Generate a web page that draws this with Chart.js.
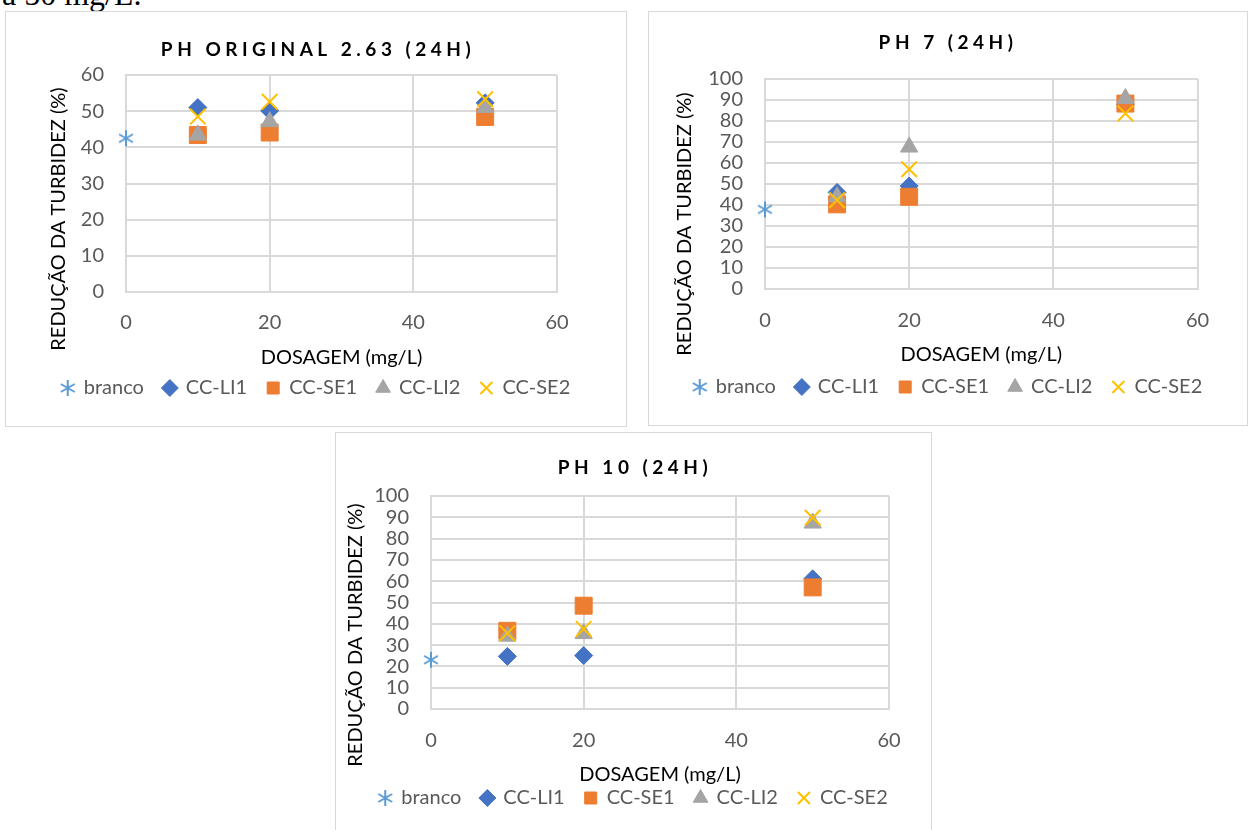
<!DOCTYPE html>
<html>
<head>
<meta charset="utf-8">
<script src="https://cdn.jsdelivr.net/npm/chart.js@4.4.1/dist/chart.umd.min.js"></script>
<style>
  html, body { margin: 0; padding: 0; background: #fff; }
  body { width: 1249px; height: 830px; position: relative; overflow: hidden; }
  .doc-text { position: absolute; left: 2px; top: -22px; font-family: "Liberation Serif", "Times New Roman", serif; font-size: 32px; line-height: 32px; color: #000; white-space: nowrap; }
  .box { position: absolute; border: 1px solid #d9d9d9; box-sizing: border-box; background: #fff; }
  .box canvas { display: block; }
</style>
</head>
<body>
<div class="doc-text">a 50 mg/L.</div>
<div class="box" style="left:5px;top:11px;width:622px;height:416px"><canvas id="chartOriginal" width="620" height="414"></canvas></div>
<div class="box" style="left:648px;top:11px;width:600px;height:415px"><canvas id="chartPh7" width="598" height="413"></canvas></div>
<div class="box" style="left:335px;top:432px;width:597px;height:400px"><canvas id="chartPh10" width="595" height="398"></canvas></div>

<script>
// series and x values
const seriesNames = ['branco', 'CC-LI1', 'CC-SE1', 'CC-LI2', 'CC-SE2'];
const dosagemBranco = [0];
const dosagem = [10, 20, 50];
const xTicks = [0, 20, 40, 60];

// pH original 2.63 (24h)
const brancoOriginal = [42.5];
const li1Original = [51.0, 50.1, 52.3];
const se1Original = [43.4, 44.1, 48.4];
const li2Original = [43.4, 47.1, 51.0];
const se2Original = [48.5, 52.6, 53.3];

// pH 7 (24h)
const brancoPh7 = [37.9];
const li1Ph7 = [46.0, 49.0, 88.0];
const se1Ph7 = [40.3, 43.9, 88.3];
const li2Ph7 = [43.9, 67.6, 90.7];
const se2Ph7 = [42.3, 57.0, 83.6];

// pH 10 (24h)
const brancoPh10 = [23.1];
const li1Ph10 = [24.7, 25.1, 61.1];
const se1Ph10 = [36.7, 48.5, 57.1];
const li2Ph10 = [34.2, 35.4, 87.3];
const se2Ph10 = [35.6, 37.6, 89.8];

const colors = ['#5B9BD5', '#4472C4', '#ED7D31', '#A5A5A5', '#FFC000'];

// excel style asterisk marker
function asterisk(color, size) {
  const c = document.createElement('canvas');
  c.width = c.height = size;
  const g = c.getContext('2d');
  const m = size / 2, r = size / 2 - 1;
  const dx = r * Math.cos(Math.PI / 6), dy = r * Math.sin(Math.PI / 6);
  g.strokeStyle = color;
  g.lineWidth = 2;
  g.beginPath();
  g.moveTo(m, m - r); g.lineTo(m, m + r);
  g.moveTo(m - dx, m - dy); g.lineTo(m + dx, m + dy);
  g.moveTo(m - dx, m + dy); g.lineTo(m + dx, m - dy);
  g.stroke();
  return c;
}

const markers = [
  { style: asterisk(colors[0], 18), radius: 9, border: 2 },
  { style: 'rectRot', radius: 9, border: 1 },
  { style: 'rect', radius: 12, border: 1 },
  { style: 'triangle', radius: 10, border: 1 },
  { style: 'crossRot', radius: 11, border: 2 }
];

function makeDatasets(values) {
  return seriesNames.map((name, i) => ({
    label: name,
    data: (i === 0 ? dosagemBranco : dosagem).map((x, j) => ({ x: x, y: values[i][j] })),
    pointStyle: markers[i].style,
    pointRadius: markers[i].radius,
    pointHoverRadius: markers[i].radius,
    backgroundColor: colors[i],
    borderColor: colors[i],
    borderWidth: markers[i].border,
    showLine: false,
    clip: false,
    order: seriesNames.length - i  // last series drawn on top, like excel
  }));
}

// chart title (letter spaced) and vertical axis title
const chartText = {
  id: 'chartText',
  afterDraw(chart, args, opts) {
    const ctx = chart.ctx;
    ctx.save();
    ctx.fillStyle = '#000';
    ctx.textAlign = 'center';
    ctx.textBaseline = 'middle';
    ctx.font = 'bold 19px Lato';
    ctx.letterSpacing = '4.5px';
    ctx.fillText(opts.title, opts.titleX, opts.titleY);
    ctx.letterSpacing = '0px';
    ctx.font = '20px Lato';
    ctx.translate(opts.yTitleX, opts.yTitleY);
    ctx.rotate(-Math.PI / 2);
    ctx.fillText(opts.yTitle, 0, 0);
    ctx.restore();
  }
};

const tickFont = { family: 'Lato', size: 20 };

function makeChart(id, title, values, yMax, g) {
  return new Chart(document.getElementById(id), {
    type: 'scatter',
    data: { datasets: makeDatasets(values) },
    plugins: [chartText],
    options: {
      responsive: false,
      animation: false,
      layout: { padding: { left: 0, right: 0, top: g.top, bottom: g.bottom } },
      plugins: {
        tooltip: { enabled: false },
        title: { display: false },
        chartText: {
          title: title, titleX: g.titleX, titleY: g.titleY,
          yTitle: 'REDUÇÃO DA TURBIDEZ (%)', yTitleX: g.yTitleX, yTitleY: g.yTitleY
        },
        legend: {
          position: 'bottom',
          reverse: true,
          labels: {
            usePointStyle: true,
            boxWidth: 12,
            boxHeight: 12,
            padding: 20,
            color: '#595959',
            font: tickFont
          }
        }
      },
      scales: {
        x: {
          type: 'linear',
          min: xTicks[0],
          max: xTicks[xTicks.length - 1],
          afterBuildTicks: s => { s.ticks = xTicks.map(v => ({ value: v })); },
          afterFit: s => { s.height = g.xHeight; },
          ticks: { autoSkip: false, padding: g.xTickPad, color: '#595959', font: tickFont },
          grid: { color: '#d9d9d9', lineWidth: 2, drawTicks: false },
          border: { color: '#d9d9d9', width: 2 },
          title: {
            display: true,
            text: 'DOSAGEM (mg/L)',
            color: '#000',
            font: { family: 'Lato', size: 20 },
            padding: { top: 0, bottom: g.xTitlePad }
          }
        },
        y: {
          type: 'linear',
          min: 0,
          max: yMax,
          afterFit: s => { s.width = g.yWidth; },
          ticks: { stepSize: 10, autoSkip: false, padding: 22, color: '#595959', font: tickFont },
          grid: { color: '#d9d9d9', lineWidth: 2, drawTicks: false },
          border: { color: '#d9d9d9', width: 2 }
        },
        // empty right-hand axis, only keeps the plot narrower than the legend
        rightGap: {
          type: 'linear',
          position: 'right',
          afterFit: s => { s.width = g.right; },
          ticks: { display: false },
          grid: { display: false },
          border: { display: false }
        }
      }
    }
  });
}

Promise.all([
  document.fonts.load('20px Lato'),
  document.fonts.load('bold 19px Lato')
]).catch(() => {}).then(() => {
  Chart.defaults.font.family = 'Lato';

  makeChart('chartOriginal', 'PH ORIGINAL 2.63 (24H)',
    [brancoOriginal, li1Original, se1Original, li2Original, se2Original], 60,
    { right: 69, top: 63, bottom: 18, yWidth: 120, xHeight: 66, xTickPad: 19, xTitlePad: -12,
      titleX: 312, titleY: 38, yTitleX: 53, yTitleY: 207 });

  makeChart('chartPh7', 'PH 7 (24H)',
    [brancoPh7, li1Ph7, se1Ph7, li2Ph7, se2Ph7], 100,
    { right: 49.5, top: 67, bottom: 18, yWidth: 116, xHeight: 68, xTickPad: 20, xTitlePad: -10,
      titleX: 299, titleY: 31, yTitleX: 36, yTitleY: 212 });

  makeChart('chartPh10', 'PH 10 (24H)',
    [brancoPh10, li1Ph10, se1Ph10, li2Ph10, se2Ph10], 100,
    { right: 42, top: 63, bottom: 13, yWidth: 95, xHeight: 59, xTickPad: 20, xTitlePad: -19,
      titleX: 299, titleY: 35, yTitleX: 20, yTitleY: 202 });
});
</script>
</body>
</html>
